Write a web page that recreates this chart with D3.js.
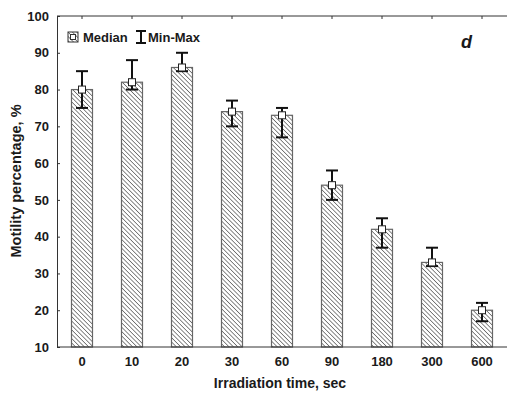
<!DOCTYPE html>
<html>
<head>
<meta charset="utf-8">
<script src="https://cdn.jsdelivr.net/npm/d3@7"></script>
<style>
  body { margin: 0; background: #fff; }
  svg text { font-family: "Liberation Sans", Arial, sans-serif; font-weight: bold; fill: #1a1a1a; }
</style>
</head>
<body>
<div id="chart"></div>
<script>
const categories = ['0', '10', '20', '30', '60', '90', '180', '300', '600']
const medians = [80, 82, 86, 74, 73, 54, 42, 33, 20]
const mins = [75, 80, 85, 70, 67, 50, 37, 32, 17]
const maxs = [85, 88, 90, 77, 75, 58, 45, 37, 22]
const yTicks = [10, 20, 30, 40, 50, 60, 70, 80, 90, 100]

const W = 507, H = 393
const margin = {top: 16, right: 0, bottom: 46, left: 57}

const svg = d3.select('#chart').append('svg')
  .attr('width', W).attr('height', H)

// hatch pattern for the bars (lines running top-left to bottom-right)
const hs = 3.1
const pat = svg.append('defs').append('pattern')
  .attr('id', 'hatch')
  .attr('patternUnits', 'userSpaceOnUse')
  .attr('width', hs).attr('height', hs)
  .attr('patternTransform', 'rotate(-45)')
pat.append('rect').attr('width', hs).attr('height', hs).attr('fill', '#fff')
pat.append('line')
  .attr('x1', 0).attr('y1', 0).attr('x2', 0).attr('y2', hs)
  .attr('stroke', '#2a2a2a').attr('stroke-width', 1.1)

const x = d3.scaleBand()
  .domain(categories)
  .range([margin.left, W - margin.right])
  .paddingInner(0.58).paddingOuter(0.29)

const y = d3.scaleLinear()
  .domain([10, 100])
  .range([H - margin.bottom, margin.top])

const rows = categories.map((c, i) => ({cat: c, med: medians[i], lo: mins[i], hi: maxs[i]}))

// bars
svg.selectAll('.bar').data(rows).enter().append('rect')
  .attr('class', 'bar')
  .attr('x', d => x(d.cat))
  .attr('y', d => y(d.med))
  .attr('width', x.bandwidth())
  .attr('height', d => y(10) - y(d.med))
  .attr('fill', 'url(#hatch)')
  .attr('stroke', '#666').attr('stroke-width', 1.2)

// axes frame
const axisColor = '#333'
svg.append('line')
  .attr('x1', margin.left).attr('x2', W)
  .attr('y1', y(10)).attr('y2', y(10))
  .attr('stroke', axisColor)
svg.append('line')
  .attr('x1', margin.left).attr('x2', W)
  .attr('y1', y(100)).attr('y2', y(100))
  .attr('stroke', axisColor)

const yAxis = svg.append('g')
  .attr('transform', `translate(${margin.left},0)`)
  .call(d3.axisLeft(y).tickValues(yTicks).tickSize(-3).tickPadding(8))
yAxis.select('.domain').attr('stroke', axisColor)
yAxis.selectAll('.tick line').attr('stroke', axisColor)
yAxis.selectAll('text').attr('font-size', 13)

const xAxis = svg.append('g')
  .attr('transform', `translate(0,${y(10)})`)
  .call(d3.axisBottom(x).tickSize(0).tickPadding(10))
xAxis.select('.domain').remove()
xAxis.selectAll('text').attr('font-size', 13)

// small ticks on top edge
const topAxis = svg.append('g')
  .attr('transform', `translate(0,${y(100)})`)
  .call(d3.axisTop(x).tickSize(-3).tickFormat(''))
topAxis.select('.domain').remove()
topAxis.selectAll('.tick line').attr('stroke', axisColor)

// whiskers
const capW = 12
const whisk = svg.selectAll('.whisk').data(rows).enter().append('g')
  .attr('transform', d => `translate(${x(d.cat) + x.bandwidth() / 2},0)`)
whisk.append('line')
  .attr('y1', d => y(d.lo)).attr('y2', d => y(d.hi))
  .attr('stroke', '#111').attr('stroke-width', 2)
whisk.append('line')
  .attr('x1', -capW / 2).attr('x2', capW / 2)
  .attr('y1', d => y(d.hi)).attr('y2', d => y(d.hi))
  .attr('stroke', '#111').attr('stroke-width', 2)
whisk.append('line')
  .attr('x1', -capW / 2).attr('x2', capW / 2)
  .attr('y1', d => y(d.lo)).attr('y2', d => y(d.lo))
  .attr('stroke', '#111').attr('stroke-width', 2)
whisk.append('rect')
  .attr('x', -3.5).attr('y', d => y(d.med) - 3.5)
  .attr('width', 7).attr('height', 7)
  .attr('fill', '#fff').attr('stroke', '#222').attr('stroke-width', 1)

// legend
const lg = svg.append('g').attr('transform', 'translate(68,37)')
lg.append('rect').attr('x', 0).attr('y', -5).attr('width', 10).attr('height', 10)
  .attr('fill', 'url(#hatch)').attr('stroke', '#333')
lg.append('rect').attr('x', 2.5).attr('y', -2.5).attr('width', 5).attr('height', 5)
  .attr('fill', '#fff').attr('stroke', '#333')
lg.append('text').attr('x', 15).attr('y', 5).attr('font-size', 13).text('Median')
const ib = lg.append('g').attr('transform', 'translate(69,0)')
ib.append('line').attr('x1', 4).attr('x2', 4).attr('y1', -6).attr('y2', 6).attr('stroke', '#111').attr('stroke-width', 2)
ib.append('line').attr('x1', -1).attr('x2', 9).attr('y1', -6).attr('y2', -6).attr('stroke', '#111').attr('stroke-width', 2)
ib.append('line').attr('x1', -1).attr('x2', 9).attr('y1', 6).attr('y2', 6).attr('stroke', '#111').attr('stroke-width', 2)
lg.append('text').attr('x', 80).attr('y', 5).attr('font-size', 13).text('Min-Max')

// panel letter
svg.append('text')
  .attr('x', 461).attr('y', 48)
  .attr('font-size', 18).attr('font-style', 'italic')
  .text('d')

// axis titles
svg.append('text')
  .attr('x', 280).attr('y', 388)
  .attr('text-anchor', 'middle').attr('font-size', 14)
  .text('Irradiation time, sec')

svg.append('text')
  .attr('transform', `translate(21,181) rotate(-90)`)
  .attr('text-anchor', 'middle').attr('font-size', 14.5)
  .text('Motility percentage, %')
</script>
</body>
</html>
